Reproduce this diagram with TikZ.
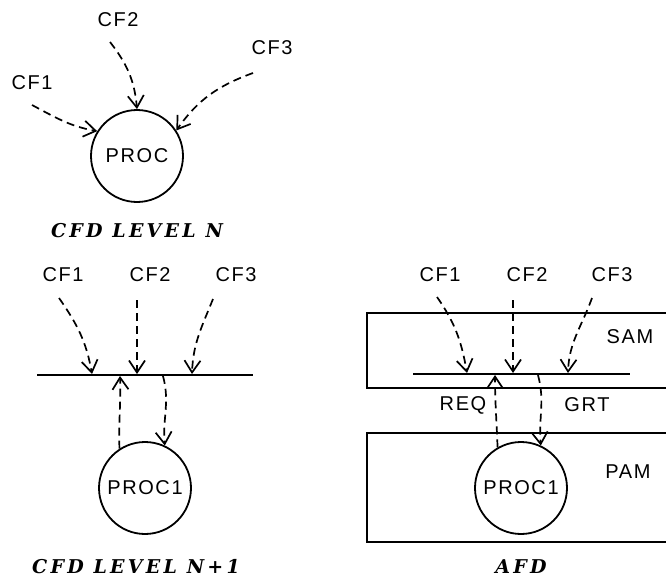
\documentclass[tikz,border=0pt]{standalone}
\usepackage{fontspec}
\setmainfont{Liberation Sans}[LetterSpace=8]
\newfontfamily\capfont{DejaVu Serif}[LetterSpace=17]
\usetikzlibrary{arrows.meta}
\begin{document}
\begin{tikzpicture}[x=1pt,y=1pt,
  lbl/.style={font=\fontsize{20}{20}\selectfont, inner sep=0pt},
  proc/.style={circle, draw, line width=1.8pt, minimum size=92pt, inner sep=0pt,
    font=\fontsize{20}{20}\selectfont},
  flow/.style={line width=1.7pt, dash pattern=on 8pt off 5pt,
    -{Straight Barb[length=12pt,width=16pt,line width=1.7pt]}},
  bar/.style={line width=2.5pt},
  frame/.style={line width=2pt},
  capt/.style={font=\fontsize{19}{19}\capfont\bfseries\itshape, inner sep=0pt}]
\useasboundingbox (0,0) rectangle (666,-581);

% ---------- CFD LEVEL N ----------
\node[lbl] (cf2a) at (118,-20) {CF2};
\node[lbl] (cf3a) at (272,-48) {CF3};
\node[lbl] (cf1a) at (32,-83) {CF1};
\node[proc] (pa) at (137,-156) {PROC};
\coordinate (s1a) at ([shift={(0,-22)}]cf1a.center);
\coordinate (s2a) at ([shift={(-8,-22)}]cf2a.center);
\coordinate (s3a) at ([shift={(-19,-25)}]cf3a.center);
\draw[flow] (s1a) to[out=-28,in=170] (pa.148);
\draw[flow] (s2a) to[out=-52,in=95] (pa.north);
\draw[flow] (s3a) to[out=200,in=55] (pa.33);
\node[capt] (capa) at (137,-231) {CFD LEVEL N};

% ---------- CFD LEVEL N+1 ----------
\node[lbl] (cf1b) at (63,-275) {CF1};
\node[lbl] (cf2b) at (150,-275) {CF2};
\node[lbl] (cf3b) at (236,-275) {CF3};
\coordinate (barLb) at (37,-375);
\coordinate (barRb) at (253,-375);
\draw[bar] (barLb) -- (barRb);
\coordinate (s1b) at ([shift={(-4,-23)}]cf1b.center);
\coordinate (s2b) at ([shift={(-13,-25)}]cf2b.center);
\coordinate (s3b) at ([shift={(-23,-24)}]cf3b.center);
\coordinate (e1b) at (92,-374);
\coordinate (e2b) at (137,-374);
\coordinate (e3b) at (192,-374);
\draw[flow] (s1b) to[out=-55,in=100] (e1b);
\draw[flow] (s2b) -- (e2b);
\draw[flow] (s3b) to[out=-112,in=88] (e3b);
\node[proc] (pb) at (145,-488) {PROC1};
\coordinate (ub) at (120,-376);
\coordinate (db) at (163,-376);
\draw[flow] (pb.123) to[out=92,in=-88] (ub);
\draw[flow] (db) to[out=-75,in=95] (pb.65);
\node[capt] (capb) at (136,-567) {CFD LEVEL N+1};

% ---------- AFD ----------
\draw[frame] (666,-313) -- (367,-313) -- (367,-388) -- (666,-388);
\draw[frame] (666,-433) -- (367,-433) -- (367,-542) -- (666,-542);
\node[lbl] (sam) at (630,-337) {SAM};
\node[lbl] (pam) at (628,-472) {PAM};
\node[lbl] (cf1c) at (440,-275) {CF1};
\node[lbl] (cf2c) at (527,-275) {CF2};
\node[lbl] (cf3c) at (612,-275) {CF3};
\coordinate (barLc) at (413,-374);
\coordinate (barRc) at (630,-374);
\draw[bar] (barLc) -- (barRc);
\coordinate (s1c) at ([shift={(-3,-22)}]cf1c.center);
\coordinate (s2c) at ([shift={(-14,-25)}]cf2c.center);
\coordinate (s3c) at ([shift={(-20,-23)}]cf3c.center);
\coordinate (e1c) at (467,-373);
\coordinate (e2c) at (513,-373);
\coordinate (e3c) at (568,-373);
\draw[flow] (s1c) to[out=-55,in=100] (e1c);
\draw[flow] (s2c) -- (e2c);
\draw[flow] (s3c) to[out=-110,in=88] (e3c);
\node[proc] (pc) at (521,-488) {PROC1};
\coordinate (uc) at (495,-375);
\coordinate (dc) at (538,-375);
\draw[flow] (pc.120) to[out=92,in=-90] (uc);
\draw[flow] (dc) to[out=-75,in=95] (pc.65);
\node[lbl] (req) at (463,-405) {REQ};
\node[lbl] (grt) at (587,-405) {GRT};
\node[capt] (capc) at (521,-567) {AFD};
\end{tikzpicture}
\end{document}
